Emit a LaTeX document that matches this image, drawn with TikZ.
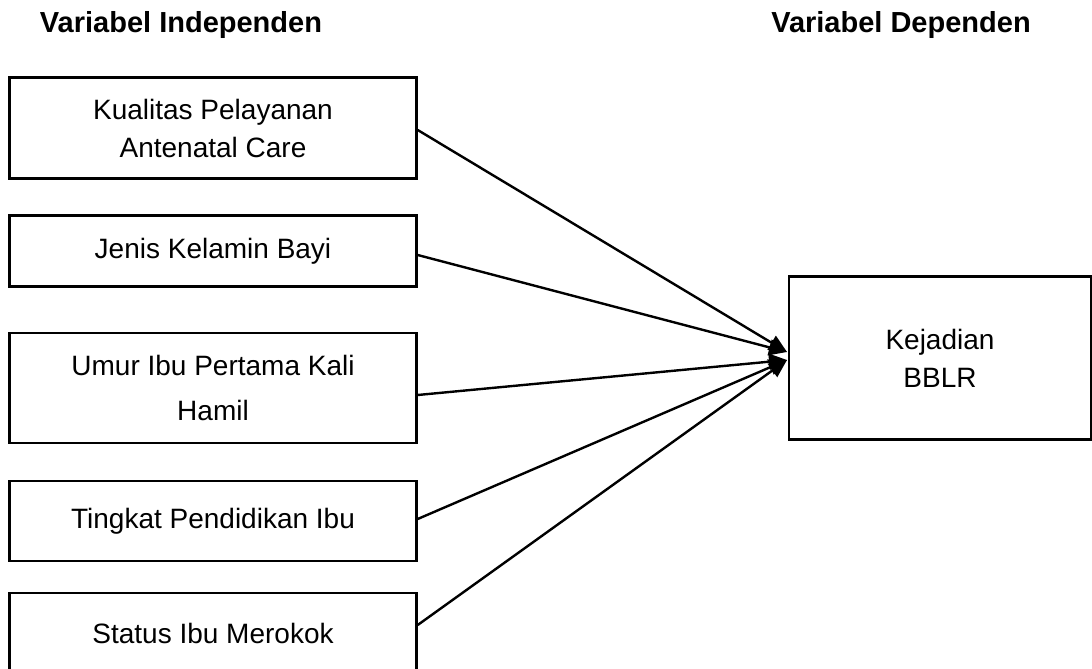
\documentclass[tikz,border=0pt]{standalone}
\usepackage{fontspec}
\setmainfont{Liberation Sans}
\usetikzlibrary{arrows.meta}

\tikzset{
    varbox/.style={draw, line width=2.4pt, minimum width=407pt, align=center, font=\fontsize{28}{38}\selectfont},
    headline/.style={font=\bfseries\fontsize{29}{32}\selectfont},
    link/.style={line width=2.4pt, -{Triangle[length=18pt,width=16pt]}}
}

\begin{document}
\begin{tikzpicture}[x=1pt, y=-1pt]
        \useasboundingbox (0,0) rectangle (1092,669);
        \clip (0,0) rectangle (1092,669);

        % Headings
        \node[headline] (hind) at (181,25) {Variabel Independen};
        \node[headline] (hdep) at (901,25) {Variabel Dependen};

        % Independent variables
        \node[varbox, minimum height=101pt] (kualitas) at (213,128) {Kualitas Pelayanan\\Antenatal Care};
        \node[varbox, minimum height=71pt] (jenis) at (213,251) {Jenis Kelamin Bayi};
        \node[varbox, minimum height=110pt, font=\fontsize{28}{45}\selectfont] (umur) at (213,388) {Umur Ibu Pertama Kali\\Hamil};
        \node[varbox, minimum height=80pt] (tingkat) at (213,521) {Tingkat Pendidikan Ibu};
        \node[varbox, minimum height=80pt] (status) at (213,633) {Status Ibu Merokok};

        % Dependent variable
        \node[varbox, minimum width=302pt, minimum height=163pt] (bblr) at (940,358) {Kejadian\\BBLR};

        % Arrow tips
        \coordinate (tipa) at (787,352);
        \coordinate (tipb) at (787,360);

        % Connectors
        \draw[link] ([yshift=-2pt]kualitas.east) -- (tipa);
        \draw[link] ([yshift=-4pt]jenis.east) -- (tipa);
        \draw[link] ([yshift=-7pt]umur.east) -- (tipb);
        \draw[link] ([yshift=2pt]tingkat.east) -- (tipb);
        \draw[link] ([yshift=8pt]status.east) -- (tipb);
    \end{tikzpicture}
\end{document}
